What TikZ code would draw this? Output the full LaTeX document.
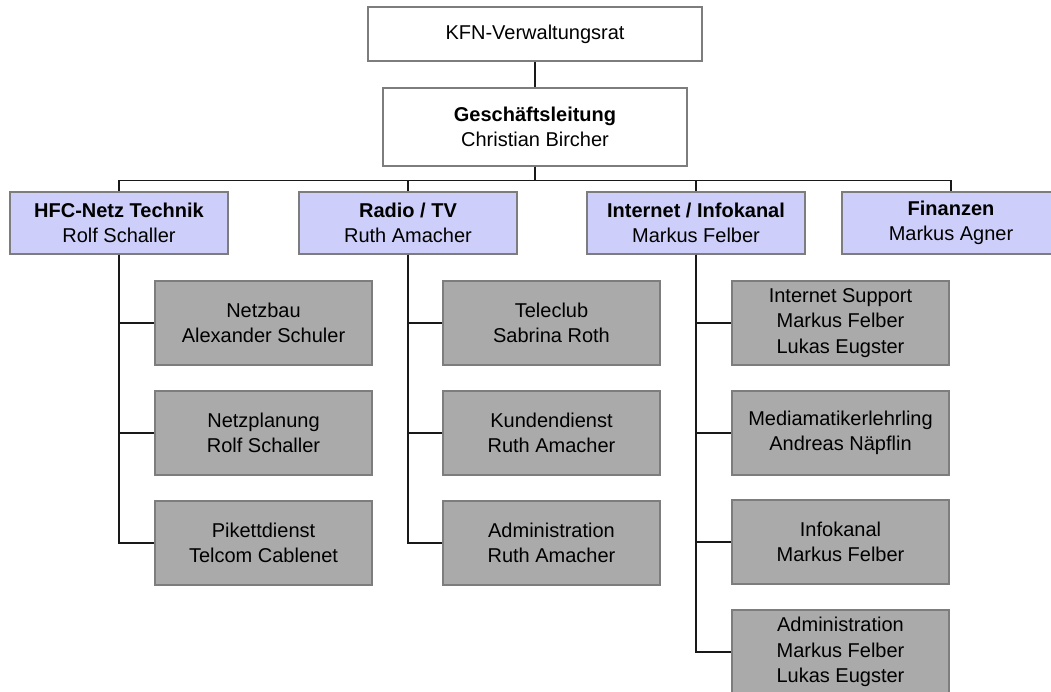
\documentclass[tikz,border=0pt]{standalone}
\usepackage{fontspec}
\setmainfont{Liberation Sans}
\definecolor{lav}{RGB}{206,206,250}
\definecolor{unitgray}{RGB}{170,170,170}
\definecolor{edgegray}{RGB}{125,125,125}
\definecolor{linecol}{RGB}{25,25,25}
\begin{document}
\begin{tikzpicture}[x=1pt,y=-1pt,
  basebox/.style={draw=edgegray, line width=1.1pt, align=center, inner sep=0pt,
    font=\fontsize{20}{25.5}\selectfont, text=black},
  topbox/.style={basebox, fill=white},
  deptbox/.style={basebox, fill=lav, minimum width=218pt, minimum height=62pt},
  unitbox/.style={basebox, fill=unitgray, minimum width=217pt, minimum height=84pt},
  conn/.style={draw=linecol, line width=1.3pt}
]
\useasboundingbox[fill=white] (0,0) rectangle (1051,692);

% top level
\node[topbox, minimum width=334pt, minimum height=54pt] (kfn) at (535,34) {KFN-Verwaltungsrat};
\node[topbox, minimum width=304pt, minimum height=78pt] (gl) at (535,127) {\textbf{Geschäftsleitung}\\Christian Bircher};

% departments
\node[deptbox] (hfc) at (119,223) {\textbf{HFC-Netz Technik}\\Rolf Schaller};
\node[deptbox] (radio) at (408,223) {\textbf{Radio / TV}\\Ruth Amacher};
\node[deptbox] (inet) at (696,223) {\textbf{Internet / Infokanal}\\Markus Felber};
\node[deptbox] (fin) at (951,223) {\textbf{Finanzen}\\Markus Agner};

% HFC units
\node[unitbox] (netzbau) at (263.5,323) {Netzbau\\Alexander Schuler};
\node[unitbox] (netzpl) at (263.5,433) {Netzplanung\\Rolf Schaller};
\node[unitbox] (pikett) at (263.5,543) {Pikettdienst\\Telcom Cablenet};

% Radio units
\node[unitbox] (teleclub) at (551.5,323) {Teleclub\\Sabrina Roth};
\node[unitbox] (kunden) at (551.5,433) {Kundendienst\\Ruth Amacher};
\node[unitbox] (admr) at (551.5,543) {Administration\\Ruth Amacher};

% Internet units
\node[unitbox] (isup) at (840.5,323) {Internet Support\\Markus Felber\\Lukas Eugster};
\node[unitbox] (media) at (840.5,433) {Mediamatikerlehrling\\Andreas Näpflin};
\node[unitbox] (infok) at (840.5,542) {Infokanal\\Markus Felber};
\node[unitbox] (admi) at (840.5,652) {Administration\\Markus Felber\\Lukas Eugster};

% connectors
\draw[conn] (kfn.south) -- (gl.north);
\draw[conn] (gl.south) -- ++(0,14) -| (hfc.north);
\draw[conn] (gl.south) -- ++(0,14) -| (radio.north);
\draw[conn] (gl.south) -- ++(0,14) -| (inet.north);
\draw[conn] (gl.south) -- ++(0,14) -| (fin.north);

\draw[conn] (hfc.south) |- (netzbau.west);
\draw[conn] (hfc.south) |- (netzpl.west);
\draw[conn] (hfc.south) |- (pikett.west);

\draw[conn] (radio.south) |- (teleclub.west);
\draw[conn] (radio.south) |- (kunden.west);
\draw[conn] (radio.south) |- (admr.west);

\draw[conn] (inet.south) |- (isup.west);
\draw[conn] (inet.south) |- (media.west);
\draw[conn] (inet.south) |- (infok.west);
\draw[conn] (inet.south) |- (admi.west);
\end{tikzpicture}
\end{document}
